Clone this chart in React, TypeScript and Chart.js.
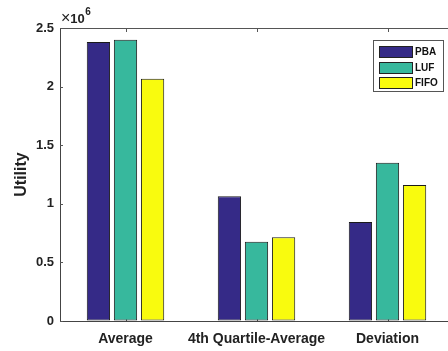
import React, { useEffect, useRef } from 'react';
import { Chart, registerables } from 'chart.js';

Chart.register(...registerables);

const categories = ['Average', '4th Quartile-Average', 'Deviation'];
const seriesNames = ['PBA', 'LUF', 'FIFO'];
const pbaValues = [2380000, 1064000, 845000];
const lufValues = [2400000, 677000, 1351000];
const fifoValues = [2067000, 714000, 1160000];
const yTickValues = [0, 0.5, 1, 1.5, 2, 2.5];
const yScaleFactor = 1e6;
const exponentText = '6';
const yAxisTitle = 'Utility';

const seriesColors = ['rgb(53,42,135)', 'rgb(55,184,157)', 'rgb(249,251,14)'];
const FONT = '"Liberation Sans", Arial, Helvetica, sans-serif';

const framePlugin = {
  id: 'frame',
  beforeDatasetsDraw(chart: any) {
    const { ctx, chartArea: a, scales } = chart;
    ctx.save();
    ctx.strokeStyle = '#555';
    ctx.lineWidth = 1;
    ctx.beginPath();
    categories.forEach((_, i) => {
      const px = Math.round(scales.x.getPixelForValue(i)) + 0.5;
      ctx.moveTo(px, a.top);
      ctx.lineTo(px, a.top + 4);
      ctx.moveTo(px, a.bottom);
      ctx.lineTo(px, a.bottom - 4);
    });
    yTickValues.forEach((v) => {
      const py = Math.round(scales.y.getPixelForValue(v * yScaleFactor)) + 0.5;
      ctx.moveTo(a.left, py);
      ctx.lineTo(a.left + 3, py);
      ctx.moveTo(a.right, py);
      ctx.lineTo(a.right - 3, py);
    });
    ctx.stroke();
    ctx.beginPath();
    const ty = Math.round(a.top) + 0.5;
    const rx = Math.round(a.right) + 0.5;
    ctx.moveTo(a.left, ty);
    ctx.lineTo(rx, ty);
    ctx.lineTo(rx, a.bottom);
    ctx.stroke();
    ctx.restore();
  },
  afterDraw(chart: any) {
    const { ctx, chartArea: a } = chart;
    ctx.save();
    // exponent label
    ctx.fillStyle = '#222';
    ctx.textBaseline = 'alphabetic';
    ctx.textAlign = 'left';
    let x = a.left + 1;
    const baseY = a.top - 5;
    ctx.font = `16px ${FONT}`;
    ctx.fillText('\u00d7', x, baseY);
    x += ctx.measureText('\u00d7').width;
    ctx.font = `bold 13px ${FONT}`;
    ctx.fillText('10', x, baseY);
    x += ctx.measureText('10').width;
    ctx.font = `bold 10px ${FONT}`;
    ctx.fillText(exponentText, x + 0.5, baseY - 8);

    // legend
    const bx = 373.5, by = 40.5, bw = 70, bh = 51;
    ctx.fillStyle = '#fff';
    ctx.fillRect(bx, by, bw, bh);
    ctx.strokeStyle = '#555';
    ctx.lineWidth = 1;
    ctx.strokeRect(bx, by, bw, bh);
    const rowTops = [45.5, 61.5, 77];
    ctx.font = `bold 10px ${FONT}`;
    ctx.textBaseline = 'middle';
    chart.data.datasets.forEach((ds: any, i: number) => {
      const sy = Math.round(rowTops[i]) + 0.5;
      ctx.fillStyle = ds.backgroundColor;
      ctx.fillRect(379.5, sy, 33, 11);
      ctx.strokeStyle = '#222';
      ctx.strokeRect(379.5, sy, 33, 11);
      ctx.fillStyle = '#111';
      ctx.fillText(ds.label, 415, sy + 6);
    });
    ctx.restore();
  },
};

export default function App() {
  const ref = useRef<HTMLCanvasElement | null>(null);
  useEffect(() => {
    if (!ref.current) return;
    const valueSets = [pbaValues, lufValues, fifoValues];
    const chart = new Chart(ref.current, {
      type: 'bar',
      data: {
        labels: categories,
        datasets: seriesNames.map((name, i) => ({
          label: name,
          data: valueSets[i],
          backgroundColor: seriesColors[i],
          borderColor: '#1a1a1a',
          borderWidth: 1,
          borderSkipped: false,
          categoryPercentage: 0.62,
          barPercentage: 0.86,
        })),
      },
      options: {
        animation: false,
        responsive: true,
        maintainAspectRatio: false,
        layout: { padding: { left: 0, right: 7, top: 28, bottom: 0 } },
        plugins: { legend: { display: false }, tooltip: { enabled: false } },
        scales: {
          x: {
            offset: true,
            grid: { display: true, drawOnChartArea: false, drawTicks: false },
            border: { display: true, color: '#444', width: 1 },
            ticks: {
              color: '#222',
              font: { family: FONT, size: 14, weight: 'bold' },
              padding: 10,
              maxRotation: 0,
              autoSkip: false,
            },
            afterFit: (s: any) => { s.height = 30; },
          },
          y: {
            min: 0,
            max: 2.5 * yScaleFactor,
            afterBuildTicks: (s: any) => {
              s.ticks = yTickValues.map((v) => ({ value: v * yScaleFactor }));
            },
            grid: { display: true, drawOnChartArea: false, drawTicks: false },
            border: { display: true, color: '#444', width: 1 },
            ticks: {
              color: '#222',
              font: { family: FONT, size: 13, weight: 'bold' },
              padding: 6,
              callback: (v: any) => String(Number(v) / yScaleFactor),
            },
            title: {
              display: true,
              text: yAxisTitle,
              color: '#222',
              font: { family: FONT, size: 16, weight: 'bold' },
              padding: { top: 12, bottom: 0 },
            },
            afterFit: (s: any) => { s.width = 60; },
          },
        },
      },
      plugins: [framePlugin],
    });
    return () => chart.destroy();
  }, []);
  return (
    <div style={{ position: 'fixed', left: 0, top: 0, width: 448, height: 351, overflow: 'hidden', background: '#fff' }}>
      <div style={{ position: 'relative', width: 460, height: 351 }}>
        <canvas ref={ref} />
      </div>
    </div>
  );
}
